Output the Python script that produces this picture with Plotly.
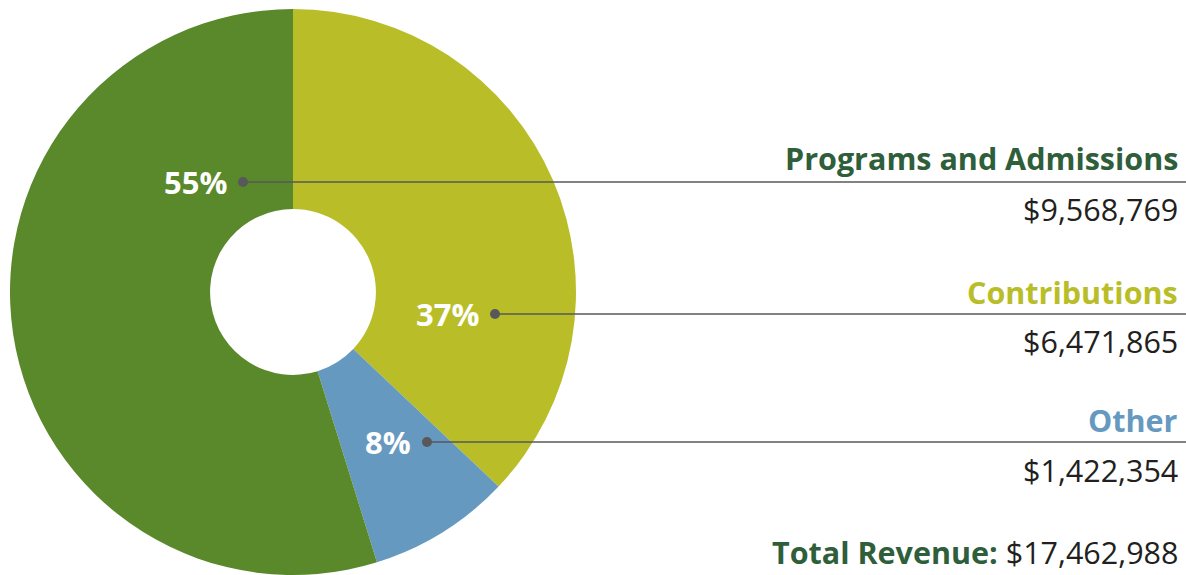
import plotly.graph_objects as go

categories = ["Contributions", "Other", "Programs and Admissions"]
values = [6471865, 1422354, 9568769]
colors = ["#b9be28", "#6699bf", "#5a892b"]
label_colors = ["#b9be28", "#6699bf", "#2f5e3a"]
total_label = "Total Revenue:"

W, H = 1186, 575
MT, MB = 9, 0
PH = H - MT - MB

def px(x):
    return x / W

def py(y):
    return (H - y) / PH

total = sum(values)
pcts = [round(v / total * 100) for v in values]

fig = go.Figure()
fig.add_trace(go.Pie(
    labels=categories, values=values, sort=False, direction="clockwise",
    rotation=0, hole=0.293, textinfo="none", hoverinfo="skip",
    marker=dict(colors=colors, line=dict(width=0)),
    domain=dict(x=[px(10), px(576)], y=[0, 1]), showlegend=False,
))

# layout positions for callouts: (pct text x, y, dot x, label y, value y)
callouts = {
    "Programs and Admissions": (195, 182, 243, 158, 209),
    "Contributions": (447, 314, 495, 292, 341),
    "Other": (388, 442, 427, 420, 470),
}

font = "Open Sans"
annotations = []
shapes = []
for cat, pct, lc, val in zip(categories, pcts, label_colors, values):
    tx, ly, dx, lab_y, val_y = callouts[cat]
    annotations.append(dict(x=px(tx), y=py(ly), xref="paper", yref="paper",
                            text=f"<b>{pct}%</b>", showarrow=False,
                            font=dict(family=font, size=31, color="white"),
                            xanchor="center", yanchor="middle"))
    shapes.append(dict(type="line", xref="paper", yref="paper",
                       x0=px(dx), x1=1, y0=py(ly), y1=py(ly),
                       line=dict(color="#58585a", width=1.5)))
    shapes.append(dict(type="circle", xref="paper", yref="paper",
                       xsizemode="pixel", ysizemode="pixel",
                       xanchor=px(dx), yanchor=py(ly),
                       x0=-5, x1=5, y0=-5, y1=5,
                       fillcolor="#58585a", line=dict(width=0)))
    annotations.append(dict(x=px(1180), y=py(lab_y), xref="paper", yref="paper",
                            text=f"<b>{cat}</b>", showarrow=False,
                            font=dict(family=font, size=30.5, color=lc),
                            xanchor="right", yanchor="middle"))
    annotations.append(dict(x=px(1180), y=py(val_y), xref="paper", yref="paper",
                            text=f"${val:,}", showarrow=False,
                            font=dict(family=font, size=30.5, color="#231f20"),
                            xanchor="right", yanchor="middle"))

annotations.append(dict(x=px(1180), y=py(552), xref="paper", yref="paper",
                        text=f"<b><span style='color:#2f5e3a'>{total_label}</span></b> ${total:,}",
                        showarrow=False,
                        font=dict(family=font, size=30.5, color="#231f20"),
                        xanchor="right", yanchor="middle"))

fig.update_layout(
    width=W, height=H, margin=dict(l=0, r=0, t=MT, b=MB),
    paper_bgcolor="white", plot_bgcolor="white",
    annotations=annotations, shapes=shapes,
)
fig.write_html("out.html", config={"displayModeBar": False},
               post_script="document.body.style.margin='0';document.body.style.overflow='hidden';")
